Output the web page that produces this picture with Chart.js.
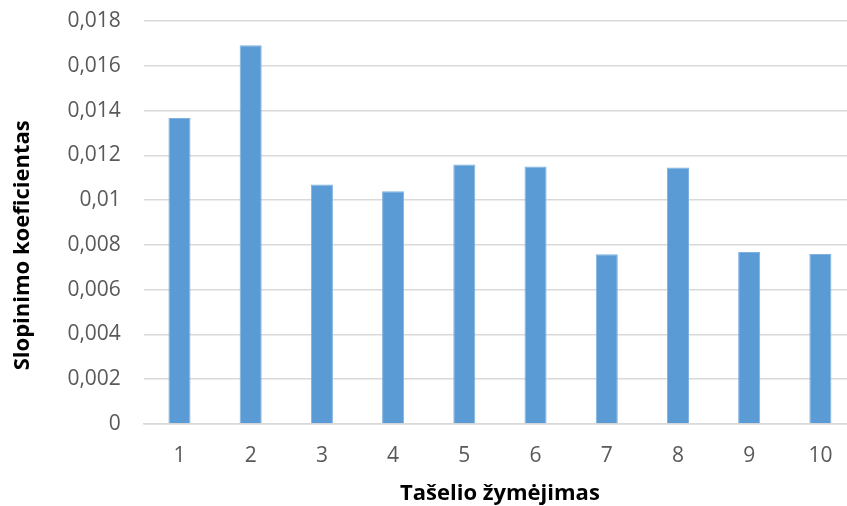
<!DOCTYPE html>
<html>
<head>
<meta charset="utf-8">
<script src="https://cdn.jsdelivr.net/npm/chart.js@4"></script>
<style>
  html, body { margin: 0; padding: 0; background: #fff; overflow: hidden; }
  #wrap { width: 860px; height: 506px; }
</style>
</head>
<body>
<div id="wrap"><canvas id="barChart"></canvas></div>
<script>
const labels = ["1", "2", "3", "4", "5", "6", "7", "8", "9", "10"];
const koeficientai = [0.01367, 0.01692, 0.0107, 0.01039, 0.01159, 0.0115, 0.00758, 0.01146, 0.00768, 0.00759];

const tickFont = { family: "'Open Sans', sans-serif", size: 21 };
const titleFont = { family: "'Open Sans', sans-serif", size: 22, weight: "bold" };

// trailing spaces push the rotated title a little lower, like in the original
const yTitle = "Slopinimo koeficientas" + " ".repeat(8);

new Chart(document.getElementById("barChart"), {
  type: 'bar',
  data: {
    labels,
    datasets: [{
      label: "Slopinimo koeficientas",
      data: koeficientai,
      backgroundColor: "#5b9bd5",
      borderColor: "#7fb1df",
      borderWidth: 1,
      categoryPercentage: 1,
      barPercentage: 0.31
    }]
  },
  options: {
    responsive: true,
    maintainAspectRatio: false,
    animation: false,
    layout: { padding: { top: 21, right: 4, left: 10, bottom: 0 } },
    plugins: {
      legend: { display: false },
      tooltip: { enabled: false }
    },
    scales: {
      x: {
        grid: { display: false },
        border: { color: "#d9d9d9", width: 1.5 },
        ticks: { color: "#595959", font: tickFont, padding: 11.5 },
        title: { display: true, text: "Tašelio žymėjimas", color: "#000", font: titleFont, padding: { top: 0.5, bottom: -1 } }
      },
      y: {
        min: 0,
        max: 0.018,
        grid: { color: "#d9d9d9", lineWidth: 1.5, drawTicks: false },
        border: { display: false },
        afterFit: scale => { scale.paddingTop = 0; scale.paddingBottom = 0; },
        ticks: {
          stepSize: 0.002,
          color: "#595959",
          font: tickFont,
          padding: 23,
          callback: v => String(Number(v.toFixed(3))).replace(".", ",")
        },
        title: { display: true, text: yTitle, color: "#000", font: titleFont, padding: { top: 0, bottom: 8 } }
      }
    }
  }
});
</script>
</body>
</html>
